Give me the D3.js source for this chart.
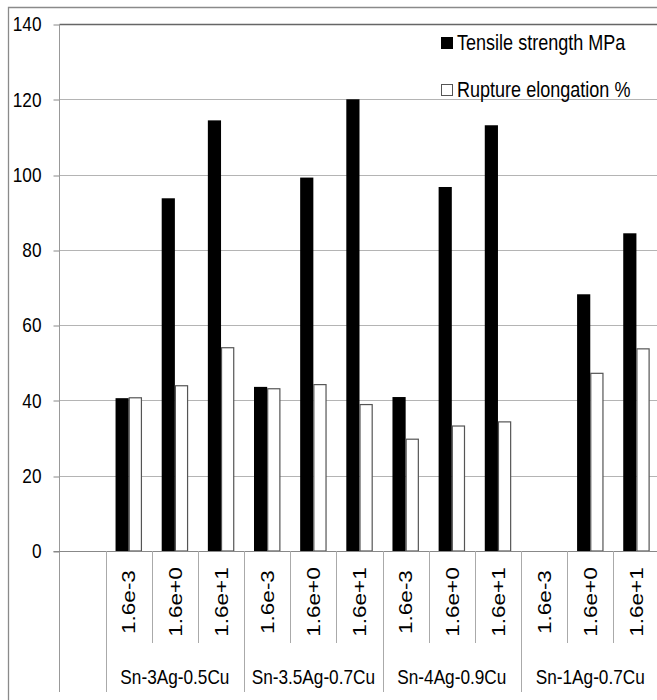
<!DOCTYPE html>
<html>
<head>
<meta charset="utf-8">
<script src="https://cdn.jsdelivr.net/npm/d3@7"></script>
<style>
  html, body { margin: 0; padding: 0; background: #fff; }
  svg { display: block; }
  text { font-family: "Liberation Sans", Arial, sans-serif; }
</style>
</head>
<body>
<script>
// ---- data ----
const groups = ["Sn-3Ag-0.5Cu", "Sn-3.5Ag-0.7Cu", "Sn-4Ag-0.9Cu", "Sn-1Ag-0.7Cu"];
const rates = ["1.6e-3", "1.6e+0", "1.6e+1"];
const seriesNames = ["Tensile strength MPa", "Rupture elongation %"];
const tensile =    [40.6, 93.7, 114.4,  43.6, 99.2, 120.0,  40.9, 96.7, 113.1,  null, 68.2, 84.4];
const elongation = [40.7, 43.9,  54.0,  43.1, 44.2,  38.9,  29.7, 33.2,  34.3,  null, 47.2, 53.7];
const yTicks = [0, 20, 40, 60, 80, 100, 120, 140];

// ---- build ----
const W = 657, H = 700;
const NARROW = 0.82; // horizontal squeeze of the reference's lettering
const svg = d3.select("body").append("svg").attr("width", W).attr("height", H);

const plotL = 59.5, plotR = 659.5, plotT = 24, plotB = 551;

const cats = [];
groups.forEach((g, gi) => rates.forEach((r, ri) => cats.push({ key: g + "|" + r, group: g, rate: r, gi, ri, idx: gi * 3 + ri })));
const domain = ["__blank"].concat(cats.map(d => d.key));

const x = d3.scaleBand().domain(domain).range([plotL, plotR]).padding(0);
const xs = d3.scaleBand().domain([0, 1]).range([0, x.bandwidth()]).paddingInner(0).paddingOuter(0.75);
const y = d3.scaleLinear().domain([0, 140]).range([plotB, plotT]);

// outer chart border
svg.append("path").attr("d", `M8.5,${H + 5} V7.5 H${W + 5}`).attr("fill", "none").attr("stroke", "#8a8a8a").attr("stroke-width", 1.3);

// gridlines
svg.append("g").selectAll("line").data(yTicks.filter(t => t > 0)).join("line")
  .attr("x1", plotL).attr("x2", plotR)
  .attr("y1", d => Math.round(y(d)) + 0.5).attr("y2", d => Math.round(y(d)) + 0.5)
  .attr("stroke", d => d === 140 ? "#666" : "#b4b4b4").attr("stroke-width", d => d === 140 ? 1.4 : 1);

// y axis
const yAxis = d3.axisLeft(y).tickValues(yTicks).tickSize(6).tickPadding(18).tickFormat(d3.format("d"));
const gy = svg.append("g").attr("transform", `translate(${plotL},0)`).call(yAxis);
gy.select(".domain").remove();
gy.selectAll(".tick line").attr("stroke", "#888").attr("transform", d => `translate(0,${Math.round(y(d)) + 0.5 - y(d)})`);
gy.selectAll(".tick text")
  .attr("font-size", 21).attr("fill", "#000").attr("font-family", "Liberation Sans, Arial, sans-serif")
  .attr("x", 0)
  .attr("transform", `translate(-18,0) scale(${NARROW},1)`);

// left axis line (extends through category table)
svg.append("line").attr("x1", plotL).attr("x2", plotL).attr("y1", plotT).attr("y2", 692).attr("stroke", "#999");

// bars
const bars = svg.append("g");
cats.forEach(c => {
  const vals = [tensile[c.idx], elongation[c.idx]];
  vals.forEach((v, si) => {
    if (v == null) return;
    const x0 = x(c.key) + xs(si);
    bars.append("rect")
      .attr("x", si === 0 ? x0 : x0 + 0.5)
      .attr("y", y(v))
      .attr("width", si === 0 ? xs.bandwidth() : xs.bandwidth() - 1)
      .attr("height", plotB - y(v))
      .attr("fill", si === 0 ? "#000" : "#fff")
      .attr("stroke", si === 0 ? "none" : "#555")
      .attr("stroke-width", 1.2);
  });
});

// x axis base line
svg.append("line").attr("x1", plotL - 6).attr("x2", plotR).attr("y1", plotB + 0.5).attr("y2", plotB + 0.5).attr("stroke", "#888");

// category table separators
const sep = svg.append("g").attr("stroke", "#aaa");
domain.forEach((k, i) => {
  if (i === 0) return;
  const c = cats[i - 1];
  const xx = Math.round(x(k)) + 0.5;
  sep.append("line").attr("x1", xx).attr("x2", xx).attr("y1", plotB).attr("y2", c.ri === 0 ? 692 : 643);
});

// rate labels (rotated)
svg.append("g").selectAll("text").data(cats).join("text")
  .attr("font-size", 22.5).attr("fill", "#000")
  .attr("text-anchor", "middle").attr("dominant-baseline", "central")
  .attr("transform", d => `translate(${x(d.key) + x.bandwidth() / 2},602) rotate(-90) scale(1,${NARROW})`)
  .text(d => d.rate);

// group labels
svg.append("g").selectAll("text").data(groups).join("text")
  .attr("font-size", 21).attr("fill", "#000")
  .attr("text-anchor", "middle")
  .attr("transform", (g, gi) => `translate(${x(groups[gi] + "|" + rates[0]) + x.bandwidth() * 1.5},684) scale(${NARROW},1)`)
  .text(d => d);

// legend
const leg = svg.append("g");
seriesNames.forEach((s, i) => {
  const yy = 50 + i * 47;
  leg.append("rect").attr("x", i === 0 ? 441 : 441.5).attr("y", yy - 13 + (i === 0 ? 0 : 0.5))
    .attr("width", i === 0 ? 12 : 11).attr("height", i === 0 ? 12 : 11)
    .attr("fill", i === 0 ? "#000" : "#fff").attr("stroke", i === 0 ? "none" : "#555");
  leg.append("text").attr("font-size", 22).attr("fill", "#000")
    .attr("transform", `translate(457,${yy}) scale(${NARROW},1)`)
    .text(s);
});
</script>
</body>
</html>
